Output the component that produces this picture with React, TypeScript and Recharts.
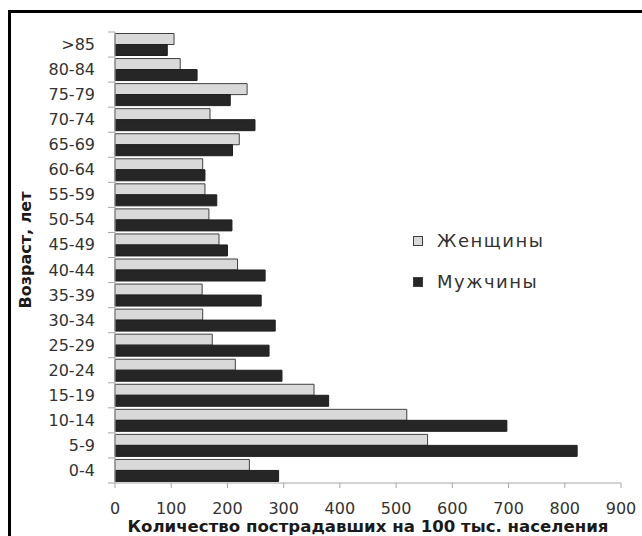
import { BarChart, Bar, XAxis, YAxis, Label } from 'recharts';

const AGE_GROUPS = [
  '>85', '80-84', '75-79', '70-74', '65-69', '60-64', '55-59', '50-54', '45-49',
  '40-44', '35-39', '30-34', '25-29', '20-24', '15-19', '10-14', '5-9', '0-4',
];
const WOMEN = [105, 116, 235, 169, 221, 156, 160, 167, 185, 218, 155, 156, 173, 214, 354, 519, 556, 239];
const MEN = [93, 146, 205, 249, 209, 160, 181, 208, 200, 267, 260, 285, 274, 297, 380, 697, 822, 291];
const X_TICKS = [0, 100, 200, 300, 400, 500, 600, 700, 800, 900];
const SERIES = [
  { key: 'women', label: 'Женщины', fill: '#d9d9d9', stroke: '#404040' },
  { key: 'men', label: 'Мужчины', fill: '#262626', stroke: '#1f1f1f' },
];

const DATA = AGE_GROUPS.map((age, i) => ({ age, women: WOMEN[i], men: MEN[i] }));

const FONT = '"DejaVu Sans", Verdana, sans-serif';
const TEXT = '#333';
const AXIS = '#a6a6a6';
const MARGIN = { top: 32, right: 21, bottom: 0, left: 0 };
const HEIGHT = 536;
const X_AXIS_HEIGHT = 53;
const BAND = (HEIGHT - MARGIN.top - X_AXIS_HEIGHT) / AGE_GROUPS.length;
const AXIS_Y = HEIGHT - X_AXIS_HEIGHT;

function AgeTick(props: any) {
  const { x, y, payload, index } = props;
  const ax = x + 20;
  return (
    <g>
      <line x1={ax - 7} x2={ax} y1={y - BAND / 2} y2={y - BAND / 2} stroke={AXIS} />
      {index === AGE_GROUPS.length - 1 && (
        <line x1={ax - 7} x2={ax} y1={y + BAND / 2} y2={y + BAND / 2} stroke={AXIS} />
      )}
      <text x={x} y={y} textAnchor="end" dominantBaseline="central" fontSize={16} fill={TEXT} fontFamily={FONT}>
        {payload.value}
      </text>
    </g>
  );
}

function renderValueTick(props: any) {
  const { x, payload } = props;
  return (
    <text
      key={payload.value}
      x={x}
      y={AXIS_Y + 25}
      textAnchor="middle"
      dominantBaseline="central"
      fontSize={16}
      fill={TEXT}
      fontFamily={FONT}
    >
      {payload.value}
    </text>
  );
}

function LegendBox() {
  return (
    <div
      style={{
        position: 'absolute',
        left: 413,
        top: 220,
        fontFamily: FONT,
        fontSize: 18,
        letterSpacing: 1.5,
        color: TEXT,
      }}
    >
      {SERIES.map((s) => (
        <div key={s.key} style={{ display: 'flex', alignItems: 'center', height: 41 }}>
          <span
            style={{
              display: 'inline-block',
              width: 8,
              height: 8,
              background: s.fill,
              border: '1px solid #404040',
              marginRight: 14,
            }}
          />
          {s.label}
        </div>
      ))}
    </div>
  );
}

export default function App() {
  return (
    <div style={{ position: 'absolute', left: 0, top: 0, width: 642, height: 536, background: '#fff' }}>
      <div
        style={{
          position: 'absolute',
          left: 8,
          top: 10,
          width: 634,
          height: 526,
          borderTop: '3px solid #000',
          borderLeft: '3px solid #000',
          boxSizing: 'border-box',
        }}
      />
      <div style={{ position: 'absolute', left: 0, top: 0 }}>
        <BarChart
          width={642}
          height={HEIGHT}
          data={DATA}
          layout="vertical"
          margin={MARGIN}
          barCategoryGap={1.5}
          barGap={0}
        >
          <XAxis
            type="number"
            domain={[0, 900]}
            ticks={X_TICKS}
            interval={0}
            height={X_AXIS_HEIGHT}
            stroke={AXIS}
            tickSize={5}
            tick={renderValueTick}
          >
            <Label
              content={(p: any) => (
                <text
                  x={p.viewBox.x + p.viewBox.width / 2}
                  y={532}
                  textAnchor="middle"
                  fontSize={16.6}
                  fontWeight="bold"
                  fill="#1a1a1a"
                  fontFamily={FONT}
                >
                  Количество пострадавших на 100 тыс. населения
                </text>
              )}
            />
          </XAxis>
          <YAxis
            type="category"
            dataKey="age"
            width={115}
            stroke={AXIS}
            tickLine={false}
            tickSize={7}
            tickMargin={13}
            interval={0}
            tick={<AgeTick />}
          >
            <Label
              content={() => (
                <text
                  x={25}
                  y={250}
                  transform="rotate(-90 25 250)"
                  textAnchor="middle"
                  dominantBaseline="central"
                  fontSize={16}
                  fontWeight="bold"
                  fill="#1a1a1a"
                  fontFamily={FONT}
                >
                  Возраст, лет
                </text>
              )}
            />
          </YAxis>
          {SERIES.map((s) => (
            <Bar
              key={s.key}
              dataKey={s.key}
              name={s.label}
              fill={s.fill}
              stroke={s.stroke}
              strokeWidth={1}
              isAnimationActive={false}
            />
          ))}
        </BarChart>
      </div>
      <LegendBox />
    </div>
  );
}
